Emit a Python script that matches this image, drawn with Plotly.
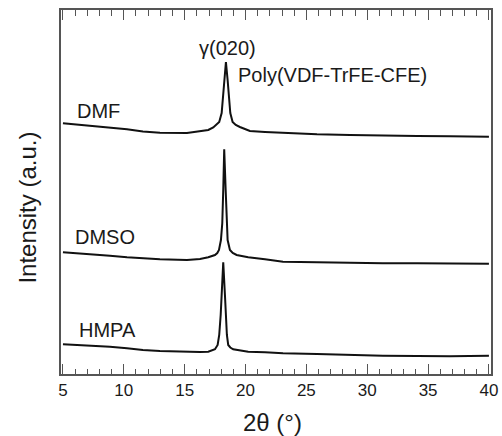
import plotly.graph_objects as go

# 2-theta positions (deg) and intensities (a.u., offset stacked)
x_dmf = [5.0, 6.40, 7.46, 8.86, 10.26, 11.57, 12.97, 15.19, 16.26, 16.94, 17.35, 17.60, 17.84, 18.04,
         18.15, 18.25, 18.39, 18.53, 18.64, 18.75, 18.94, 19.20, 19.54, 20.36, 21.60, 23.08, 25.87,
         28.58, 31.29, 34.09, 36.80, 40.0]
y_dmf = [250.7, 249, 248, 246.7, 244.7, 242.5, 241.3, 241, 242.5, 244, 246.5, 249, 252, 261,
         277, 294, 312, 294, 277, 261, 252, 249, 247, 243, 242, 241, 239.7,
         239, 238.3, 238, 237.7, 237.3]

x_dmso = [5.0, 6.40, 7.46, 8.86, 10.26, 11.57, 12.97, 15.19, 16.26, 16.94, 17.49, 17.68, 17.82, 17.98,
          18.09, 18.17, 18.25, 18.37, 18.45, 18.53, 18.72, 18.95, 19.27, 20.22, 21.60, 23.08, 25.87,
          28.58, 31.29, 34.09, 36.80, 40.0]
y_dmso = [121.7, 120.7, 119.7, 118.3, 116.7, 115.7, 114.7, 114, 115, 116.7, 119, 121, 124, 134,
          150.7, 184, 224.7, 184, 150.7, 134, 124, 121, 119, 116.7, 114.7, 112.3, 111.7,
          111, 110.7, 110.7, 110.7, 110.3]

x_hmpa = [5.0, 6.40, 7.46, 8.86, 10.26, 11.57, 12.97, 15.19, 16.26, 16.94, 17.49, 17.71, 17.84, 17.96,
          18.04, 18.17, 18.31, 18.39, 18.47, 18.58, 18.75, 18.99, 20.22, 21.60, 23.08, 25.87, 28.58,
          31.29, 34.09, 36.80, 40.0]
y_hmpa = [29.7, 29, 28.3, 27.3, 25.7, 24, 23, 22, 22, 22.3, 24.7, 29, 39, 59,
          79, 111.7, 79, 59, 39, 29, 26.5, 24.7, 22.3, 21.7, 20.7, 20, 19,
          18.3, 18, 17.7, 18.3]

series_names = ["DMF", "DMSO", "HMPA"]
x_ticks = [5, 10, 15, 20, 25, 30, 35, 40]

FONT = "Liberation Sans, Arial, Helvetica, sans-serif"
TXT = "#1a1a1a"
AX = "#555555"

fig = go.Figure()
for name, xs, ys in zip(series_names, [x_dmf, x_dmso, x_hmpa], [y_dmf, y_dmso, y_hmpa]):
    fig.add_trace(go.Scatter(x=xs, y=ys, mode="lines", name=name,
                             line=dict(color="#111111", width=2), showlegend=False))

labels = [
    ("DMF", 7.90, 263),
    ("DMSO", 8.49, 137.3),
    ("HMPA", 8.67, 43.7),
    ("γ(020)", 18.52, 326),
    ("Poly(VDF-TrFE-CFE)", 27.14, 299),
]
for text, lx, ly in labels:
    fig.add_annotation(x=lx, y=ly, xref="x", yref="y", text=text, showarrow=False,
                       xanchor="center", yanchor="middle",
                       font=dict(family=FONT, size=20, color=TXT))

fig.add_annotation(x=-0.08, y=0.456, xref="paper", yref="paper", text="Intensity (a.u.)",
                   showarrow=False, textangle=-90, xanchor="center", yanchor="middle",
                   font=dict(family=FONT, size=24, color=TXT))
fig.add_annotation(x=0.491, y=-0.132, xref="paper", yref="paper", text="2θ (°)",
                   showarrow=False, xanchor="center", yanchor="middle",
                   font=dict(family=FONT, size=24, color=TXT))

xrange = [4.84, 40.17]
fig.update_layout(
    width=502, height=436,
    margin=dict(l=61, r=11, t=10, b=62, autoexpand=False),
    paper_bgcolor="white", plot_bgcolor="white",
    font=dict(family=FONT, color=TXT),
    xaxis=dict(range=xrange, tickvals=x_ticks, ticks="inside", ticklen=10, tickwidth=1.2,
               tickcolor=AX, showline=True, linecolor=AX, linewidth=1.5, mirror=True,
               showgrid=False, zeroline=False, automargin=False,
               tickfont=dict(family=FONT, size=17, color=TXT),
               minor=dict(dtick=1, tick0=5, ticks="inside", ticklen=5.5, tickwidth=1.2, tickcolor=AX,
                          showgrid=False)),
    xaxis2=dict(range=xrange, overlaying="x", side="top", tickvals=x_ticks, ticks="inside", ticklen=10,
                tickwidth=1.2, tickcolor=AX, showticklabels=False, showline=False, showgrid=False,
                zeroline=False, automargin=False,
                minor=dict(dtick=1, tick0=5, ticks="inside", ticklen=5.5, tickwidth=1.2, tickcolor=AX,
                           showgrid=False)),
    yaxis=dict(range=[0, 364], showticklabels=False, ticks="", showline=True, linecolor=AX,
               linewidth=1.5, mirror=True, showgrid=False, zeroline=False, automargin=False),
)
# invisible trace to activate the top axis carrying the mirrored ticks
fig.add_trace(go.Scatter(x=[x_ticks[0], x_ticks[-1]], y=[None, None], xaxis="x2", mode="lines",
                         showlegend=False, hoverinfo="skip"))

fig.write_html("out.html")
